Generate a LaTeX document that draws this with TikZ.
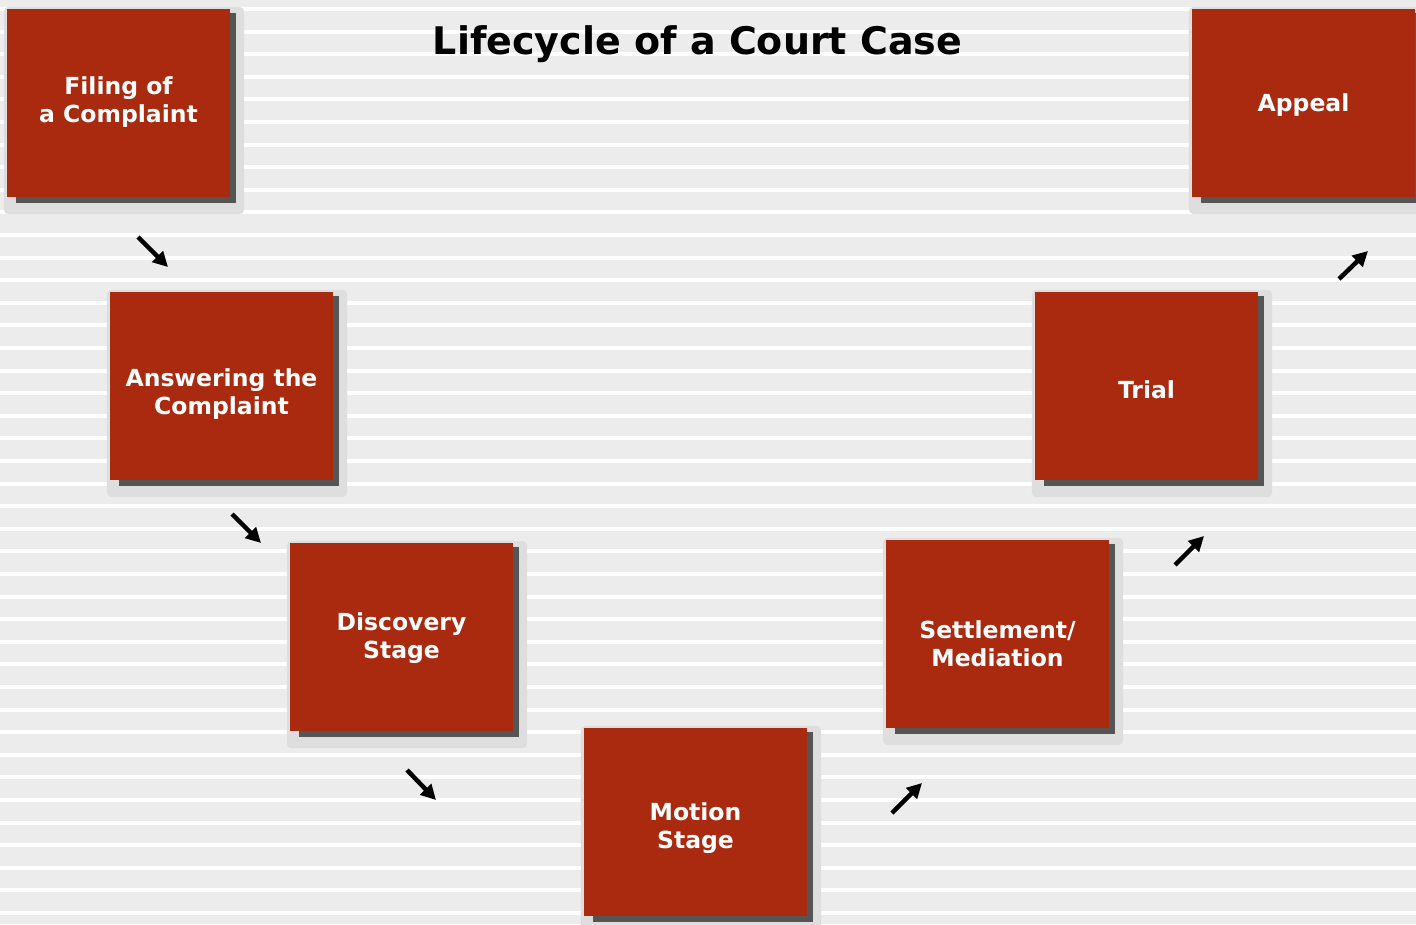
\documentclass[tikz,border=0pt]{standalone}
\usepackage{fontspec}
\setmainfont{DejaVu Sans}
\usetikzlibrary{arrows.meta}
\definecolor{boxred}{RGB}{169,42,15}
\definecolor{bggray}{RGB}{236,236,236}
\definecolor{haloc}{RGB}{222,222,222}
\definecolor{shadowc}{RGB}{85,85,85}
\pgfdeclarelayer{shad}
\pgfsetlayers{shad,main}
\begin{document}
\begin{tikzpicture}[x=1pt,y=-1pt,
  stepbox/.style={fill=boxred, minimum width=223pt, minimum height=188pt, inner sep=0pt, draw=none},
  lbl/.style={text=white, font=\fontsize{23.5}{28}\selectfont\bfseries, align=center, inner sep=0pt},
  arr/.style={line width=4.5pt, -{Triangle[length=15pt,width=15pt]}, black}]
\useasboundingbox (0,0) rectangle (1416,924);
\begin{pgfonlayer}{shad}
  \fill[bggray] (0,0) rectangle (1416,924);
  \foreach \k in {0,...,41} {
    \fill[white] (0,{7+22.6*\k}) rectangle (1416,{11+22.6*\k});
  }
\end{pgfonlayer}

\node[font=\fontsize{38}{44}\selectfont\bfseries, anchor=base] (title) at (697.5,54) {Lifecycle of a Court Case};

\node[stepbox] (filing) at (118.5,103) {};
\node[lbl] (filingt) at (118.5,102) {Filing of\\a Complaint};
\node[stepbox] (answer) at (221.5,386) {};
\node[lbl] (answert) at (221.5,394) {Answering the\\Complaint};
\node[stepbox] (discovery) at (401.5,637) {};
\node[lbl] (discoveryt) at (401.5,638) {Discovery\\Stage};
\node[stepbox] (motion) at (695.5,822) {};
\node[lbl] (motiont) at (695.5,828) {Motion\\Stage};
\node[stepbox] (settle) at (997.5,634) {};
\node[lbl] (settlet) at (997.5,644) {Settlement/\\Mediation};
\node[stepbox] (trial) at (1146.5,386) {};
\node[lbl] (trialt) at (1146.5,390) {Trial};
\node[stepbox] (appeal) at (1303.5,103) {};
\node[lbl] (appealt) at (1303.5,105) {Appeal};

\begin{pgfonlayer}{shad}
  \foreach \n in {filing,answer,discovery,motion,settle,trial,appeal} {
    \fill[haloc, rounded corners=5pt] ([shift={(-3pt,2pt)}]\n.north west) rectangle ([shift={(14pt,-17pt)}]\n.south east);
    \fill[shadowc] ([shift={(9pt,-4pt)}]\n.north west) rectangle ([shift={(6pt,-6pt)}]\n.south east);
  }
\end{pgfonlayer}

\coordinate (a1s) at (138,237); \coordinate (a1e) at (168,267);
\coordinate (a2s) at (232,514); \coordinate (a2e) at (261,543);
\coordinate (a3s) at (407,770); \coordinate (a3e) at (436,800);
\coordinate (a4s) at (892,813); \coordinate (a4e) at (922,783);
\coordinate (a5s) at (1175,565); \coordinate (a5e) at (1204,536);
\coordinate (a6s) at (1339,279); \coordinate (a6e) at (1368,251);
\foreach \i in {1,...,6} { \draw[arr] (a\i s) -- (a\i e); }
\end{tikzpicture}
\end{document}
